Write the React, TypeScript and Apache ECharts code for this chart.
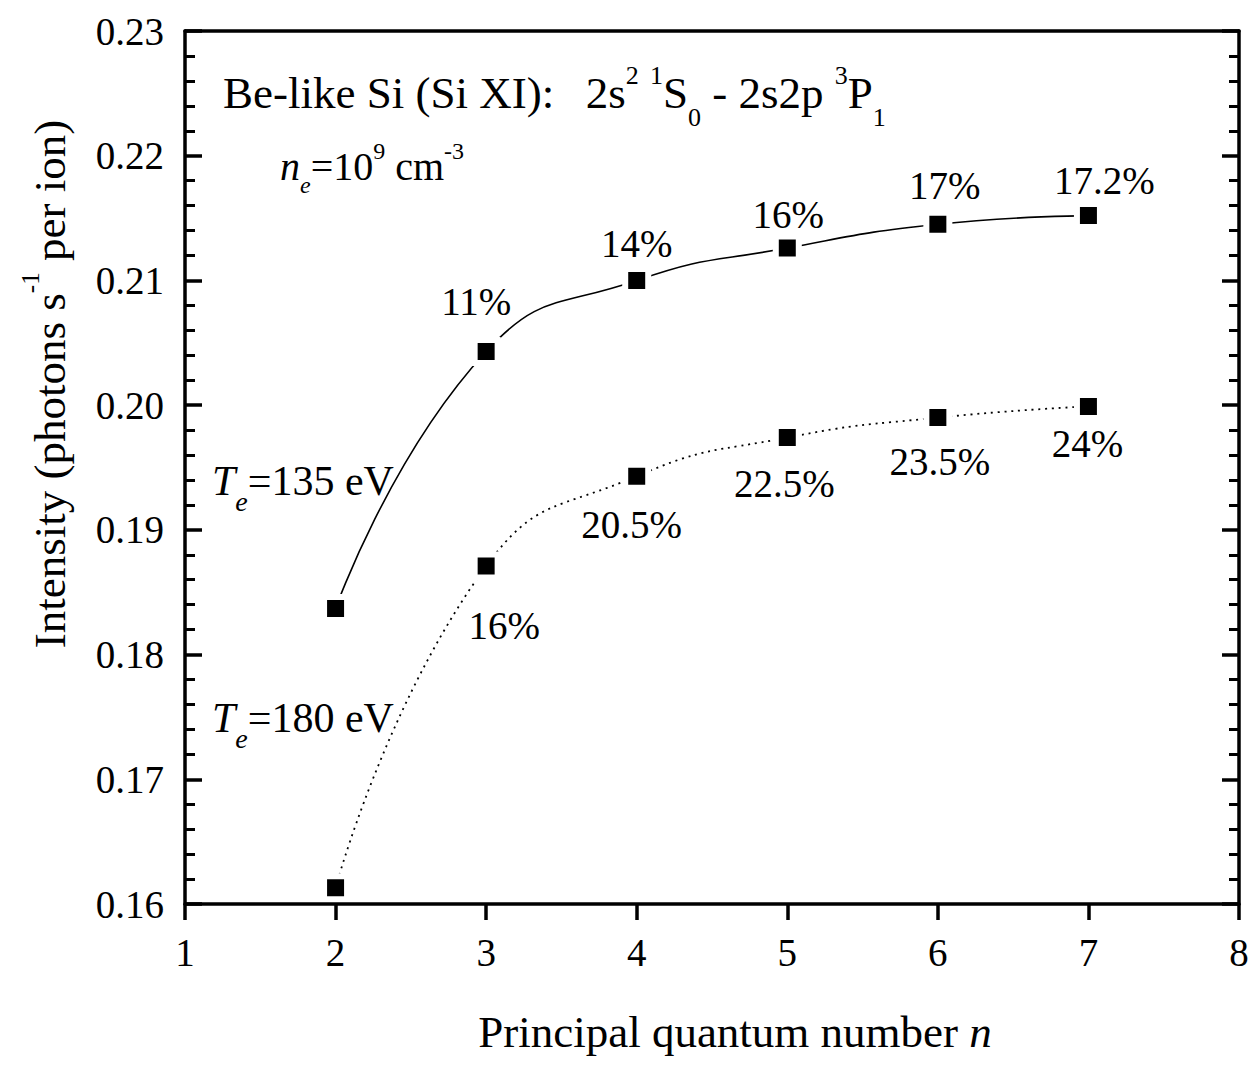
import React, { useEffect, useRef } from 'react';
import * as echarts from 'echarts';

// ---- data ----
const nValues = [2, 3, 4, 5, 6, 7];
const intensity135 = [0.1837, 0.2043, 0.21, 0.2126, 0.2145, 0.2152];
const intensity180 = [0.1613, 0.1871, 0.1943, 0.1974, 0.199, 0.1999];
const pct135 = ['', '11%', '14%', '16%', '17%', '17.2%'];
const pct180 = ['', '16%', '20.5%', '22.5%', '23.5%', '24%'];
const xMin = 1;
const xMax = 8;
const yMin = 0.16;
const yMax = 0.23;

// ---- layout (label offsets in px relative to the marker) ----
const off135 = [[0, 0], [-10, -50], [0, -37], [1, -34], [7, -39], [16, -35]];
const off180 = [[0, 0], [18, 59], [-5, 48], [-3, 46], [2, 44], [-1, 37]];

const SERIF = "'Liberation Serif', 'Times New Roman', Times, serif";
const NB = '\u00A0';
const sp = (s: string) => s.replace(/ /g, NB);

// rich styles for main text with super/subscripts
// F main size, s script size, r superscript raise, d subscript drop (baseline offsets)
function rich(F: number, s: number, r: number, d: number) {
  const L = F + 40;
  const hs = L + 0.675 * (F - s) - 2 * r;
  const hb = L - 0.675 * (F - s) - 2 * d;
  const base = { fontFamily: SERIF, fill: '#000', color: '#000' };
  return {
    m: { ...base, fontSize: F, lineHeight: L },
    i: { ...base, fontSize: F, lineHeight: L, fontStyle: 'italic' },
    sup: { ...base, fontSize: s, height: hs, lineHeight: 1, verticalAlign: 'top' },
    sub: { ...base, fontSize: s, height: hb, lineHeight: 1, verticalAlign: 'bottom' },
    subi: { ...base, fontSize: s, height: hb, lineHeight: 1, verticalAlign: 'bottom', fontStyle: 'italic' },
  };
}

function textEl(text: string, x: number, y: number, F: number, s: number, r: number, d: number, align = 'left', rotation = 0) {
  return {
    type: 'text',
    x,
    y,
    rotation,
    silent: true,
    style: {
      text,
      rich: rich(F, s, r, d),
      align,
      verticalAlign: 'middle',
      fontFamily: SERIF,
      fontSize: F,
      fill: '#000',
    },
  };
}

function buildData(vals: number[], pcts: string[], offs: number[][]) {
  return vals.map((v, i) => ({
    value: [nValues[i], v],
    label: {
      show: pcts[i] !== '',
      formatter: pcts[i],
      position: 'inside',
      offset: offs[i],
    },
  }));
}

export default function App() {
  const ref = useRef<HTMLDivElement>(null);
  useEffect(() => {
    if (!ref.current) return;
    const chart = echarts.init(ref.current, null, { renderer: 'svg' });
    const axisLine = { show: true, lineStyle: { color: '#000', width: 3.5 } };
    const labelFont = { fontFamily: SERIF, fontSize: 39, color: '#000' };
    const seriesCommon = {
      type: 'line',
      symbol: 'rect',
      symbolSize: 23,
      smooth: 0.5,
      itemStyle: { color: '#000', borderColor: '#fff', borderWidth: 6 },
      label: { ...labelFont },
      emphasis: { disabled: true },
      z: 3,
    };
    chart.setOption({
      animation: false,
      backgroundColor: '#fff',
      grid: { left: 185, right: 19, top: 31, bottom: 165, containLabel: false, outerBoundsMode: 'none' },
      xAxis: [
        {
          type: 'value',
          min: xMin,
          max: xMax,
          interval: 1,
          axisLine,
          axisTick: { show: true, inside: false, length: 16, lineStyle: { color: '#000', width: 3.5 } },
          axisLabel: { ...labelFont, margin: 29 },
          splitLine: { show: false },
          z: 5,
        },
        {
          type: 'value',
          position: 'top',
          min: xMin,
          max: xMax,
          interval: 1,
          axisLine,
          axisTick: { show: false },
          axisLabel: { show: false },
          splitLine: { show: false },
          z: 5,
        },
      ],
      yAxis: [
        {
          type: 'value',
          min: yMin,
          max: yMax,
          interval: 0.01,
          axisLine,
          axisTick: { show: true, inside: true, length: 17, lineStyle: { color: '#000', width: 3.5 } },
          minorTick: { show: true, splitNumber: 5, length: 10, lineStyle: { color: '#000', width: 3 } },
          axisLabel: { ...labelFont, margin: 21, formatter: (v: number) => v.toFixed(2) },
          splitLine: { show: false },
          minorSplitLine: { show: false },
          z: 5,
        },
        {
          type: 'value',
          position: 'right',
          min: yMin,
          max: yMax,
          interval: 0.01,
          axisLine,
          axisTick: { show: true, inside: true, length: 17, lineStyle: { color: '#000', width: 3.5 } },
          minorTick: { show: true, splitNumber: 5, length: 10, lineStyle: { color: '#000', width: 3 } },
          axisLabel: { show: false },
          splitLine: { show: false },
          minorSplitLine: { show: false },
          z: 5,
        },
      ],
      series: [
        {
          ...seriesCommon,
          name: 'Te=135 eV',
          lineStyle: { color: '#000', width: 1.6, type: 'solid' },
          data: buildData(intensity135, pct135, off135),
        },
        {
          ...seriesCommon,
          name: 'Te=180 eV',
          lineStyle: { color: '#000', width: 1.8, type: [2, 4.8] },
          data: buildData(intensity180, pct180, off180),
        },
      ],
      graphic: [
        textEl(
          `{m|${sp('Be-like Si (Si XI):  ')}\u2009${'2s'}}{sup|2}{m|${NB}}{sup|1}{m|S}{sub|0}{m|${sp(' - 2s2p ')}}{sup|3}{m|P}{sub|1}`,
          223, 93, 45, 26, 24, 18
        ),
        textEl(`{i|n}{subi|e}{m|=10}{sup|9}{m|${sp(' cm')}}{sup|-3}`, 280, 166, 40, 24, 20, 14),
        textEl(`{i|T}{subi|e}{m|${sp('=135 eV')}}`, 212, 481, 42, 28, 22, 16),
        textEl(`{i|T}{subi|e}{m|${sp('=180 eV')}}`, 212, 718, 42, 28, 22, 16),
        textEl(`{m|${sp('Principal quantum number ')}}{i|n}`, 735, 1032, 45, 25, 23, 19, 'center'),
        textEl(
          `{m|${sp('Intensity (photons s')}}{sup|-1}{m|${sp(' per ion)')}}`,
          50, 384, 45, 25, 26, 19, 'center', Math.PI / 2
        ),
      ],
    });
    return () => chart.dispose();
  }, []);
  return (
    <div style={{ position: 'fixed', left: 0, top: 0, width: 1258, height: 1069, background: '#fff' }}>
      <div ref={ref} style={{ width: 1258, height: 1069 }} />
    </div>
  );
}
